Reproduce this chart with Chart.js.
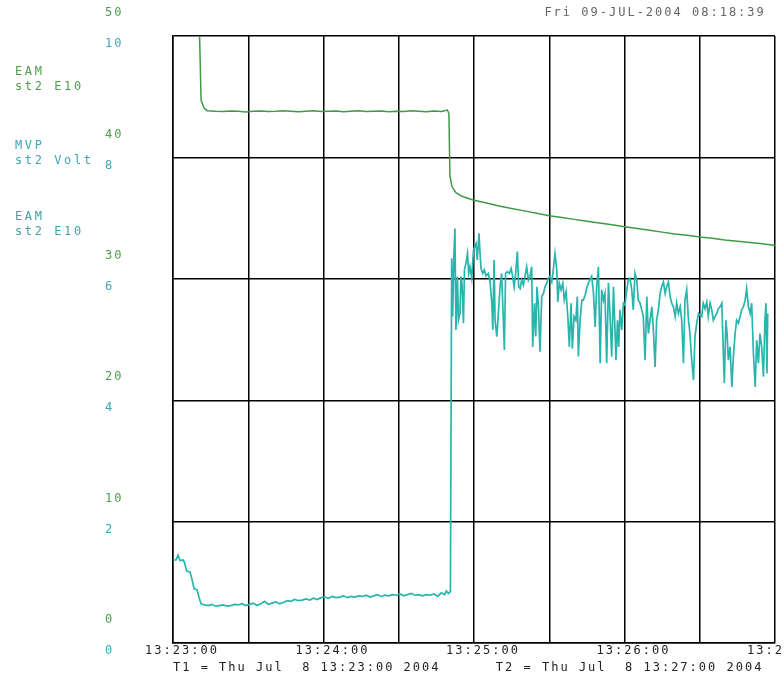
<html>

<head>
<script src="https://cdn.jsdelivr.net/npm/chart.js@4"></script>
<style>
  body { margin: 0; background: #fff; overflow: hidden; }
  #marco { position: relative; width: 784px; height: 683px; }
  .rotulo { position: absolute; left: 15px; font: 12px "DejaVu Sans Mono", monospace; letter-spacing: 2.6px; line-height: 15px; white-space: pre; }
</style>
</head>

<body>
  <div id="marco">
    <canvas id="grafica" width="784" height="683"></canvas>
    <!-- nombres de las series, a la izquierda -->
    <div class="rotulo" style="top:64px; color:#4d9e4d">EAM
st2 E10</div>
    <div class="rotulo" style="top:138px; color:#3fa6b4">MVP
st2 Volt</div>
    <div class="rotulo" style="top:209px; color:#3ea3a3">EAM
st2 E10</div>
  </div>

<script>
  // segundos desde 13:23:00
  const tiempoVerde = [10.6, 11.2, 12.4, 13.6,
    17, 20, 23, 26, 29, 32, 35, 38, 41, 44,
    47, 50, 53, 56, 59, 62, 65, 68, 71, 74,
    77, 80, 83, 86, 89, 92, 95, 98, 101, 104, 107,
    109.4, 110.0, 110.4, 111.2, 112.8, 115.2, 119.6,
    125, 130, 135, 140, 145, 150, 155, 160, 165, 170,
    175, 180, 185, 190, 195, 200, 205, 210, 215, 220,
    225, 230, 235, 240];
  const valorVerde = [50, 44.7, 44.07, 43.85,
    43.8, 43.78, 43.82, 43.8, 43.75, 43.8, 43.82, 43.78, 43.8, 43.85,
    43.8, 43.76, 43.8, 43.84, 43.78, 43.8, 43.82, 43.76, 43.8, 43.85,
    43.78, 43.8, 43.83, 43.76, 43.8, 43.78, 43.84, 43.8, 43.76, 43.82, 43.78,
    43.9, 43.6, 38.5, 37.6, 37.1, 36.8, 36.5,
    36.25, 36.0, 35.8, 35.6, 35.4, 35.2, 35.05, 34.9, 34.75, 34.6,
    34.45, 34.3, 34.15, 34.0, 33.85, 33.7, 33.6, 33.45, 33.35, 33.2,
    33.1, 33.0, 32.9, 32.75];

  const tiempoCian = [
    0, 1.2, 2, 2.8, 4, 4.6, 5.4, 6.8, 7.6, 8.4,
    9.6, 10.4, 11.2, 12.5, 14, 15.5, 17, 18.5, 20, 21.5,
    23, 24.5, 26, 27.5, 29, 30.5, 32, 33.5, 35, 36.5,
    38, 39.5, 41, 42.5, 44, 45.5, 47, 48.5, 50, 51.5,
    53, 54.5, 56, 57.5, 59, 60.5, 62, 63.5, 65, 66.5,
    68, 69.5, 71, 72.5, 74, 75.5, 77, 78.5, 80, 81.5,
    83, 84.5, 86, 87.5, 89, 90.5, 92, 93.5, 95, 96.5,
    98, 99.5, 101, 102.5, 104, 105.5, 107, 108.3, 109, 109.8,
    110.6, 111.1, 111.5, 112.0, 112.4, 112.8, 113.4, 113.8, 114.4, 114.8,
    115.2, 115.8, 116.2, 116.8, 117.4, 117.9, 118.4, 119.1, 119.8, 120.8,
    121.3, 122.0, 122.4, 122.8, 123.5, 124.1, 124.8, 125.7, 126.4, 127.1,
    127.5, 128.0, 128.4, 129.1, 129.7, 130.4, 131.0, 131.7, 132.1, 132.6,
    133.3, 134.1, 134.8, 135.4, 136.0, 136.6, 137.3, 137.8, 138.4, 139.0,
    139.7, 140.4, 141.0, 141.7, 142.3, 143.0, 143.4, 144.1, 144.6, 145.1,
    145.7, 146.3, 147.0, 147.7, 148.3, 149.0, 149.6, 150.3, 151.0, 151.6,
    152.3, 153.0, 153.4, 154.0, 154.7, 155.4, 156.0, 156.7, 157.4, 158.0,
    158.7, 159.2, 159.9, 160.6, 161.2, 161.6, 162.3, 163.0, 163.6, 164.3,
    164.9, 165.6, 166.3, 166.9, 167.6, 168.3, 168.9, 169.6, 170.3, 170.9,
    171.6, 172.2, 172.9, 173.6, 174.2, 174.9, 175.6, 176.2, 176.6, 177.2,
    177.7, 178.2, 178.9, 179.6, 180.2, 180.9, 181.5, 182.2, 182.9, 183.5,
    184.2, 184.9, 185.5, 186.2, 186.9, 187.5, 188.2, 188.9, 189.5, 190.2,
    190.9, 191.5, 192.2, 192.8, 193.5, 194.2, 194.8, 195.5, 196.2, 196.8,
    197.5, 198.2, 198.8, 199.5, 200.2, 200.8, 201.5, 202.2, 202.8, 203.5,
    204.1, 204.8, 205.5, 206.1, 206.8, 207.5, 208.1, 208.8, 209.5, 210.8,
    211.4, 212.1, 212.8, 213.4, 214.1, 214.8, 215.4, 216.1, 216.8, 217.4,
    218.1, 218.8, 219.4, 219.8, 220.4, 220.9, 221.4, 222.1, 222.8, 223.4,
    224.1, 224.7, 225.4, 226.1, 226.7, 227.4, 228.1, 228.7, 229.4, 230.1,
    230.7, 231.4, 232.1, 232.7, 233.4, 234.0, 234.7, 235.4, 236.0, 236.4,
    236.8, 237.1];
  const valorCian = [
    1.37, 1.37, 1.45, 1.36, 1.37, 1.33, 1.19, 1.17, 1.05, 0.90,
    0.88, 0.75, 0.65, 0.63, 0.62, 0.64, 0.61, 0.62, 0.63, 0.61,
    0.62, 0.64, 0.63, 0.65, 0.62, 0.64, 0.66, 0.62, 0.65, 0.69,
    0.64, 0.66, 0.68, 0.65, 0.67, 0.70, 0.69, 0.72, 0.70, 0.71,
    0.73, 0.71, 0.74, 0.72, 0.75, 0.76, 0.74, 0.77, 0.75, 0.76,
    0.78, 0.75, 0.77, 0.76, 0.78, 0.77, 0.79, 0.76, 0.78, 0.80,
    0.77, 0.79, 0.78, 0.80, 0.79, 0.81, 0.78, 0.80, 0.82, 0.79,
    0.80, 0.78, 0.80, 0.79, 0.81, 0.77, 0.83, 0.80, 0.86, 0.82,
    0.85, 6.34, 5.38, 6.42, 6.83, 5.16, 6.04, 5.32, 5.43, 6.04,
    5.93, 5.27, 6.15, 6.26, 6.42, 6.09, 6.20, 6.01, 6.48, 6.58,
    6.31, 6.75, 6.42, 6.17, 6.09, 6.15, 6.05, 6.09, 5.95, 5.60,
    5.16, 6.31, 5.32, 5.05, 5.43, 5.87, 6.09, 5.32, 4.83, 6.09,
    6.12, 6.09, 6.17, 6.04, 5.87, 6.09, 6.45, 5.87, 5.84, 5.98,
    5.90, 6.06, 6.20, 5.98, 6.04, 6.20, 4.88, 5.60, 5.05, 5.87,
    5.54, 4.80, 5.71, 5.76, 5.87, 5.93, 6.01, 6.04, 5.95, 6.15,
    6.42, 6.15, 5.62, 5.93, 5.82, 5.93, 5.65, 5.79, 5.38, 4.88,
    5.60, 4.85, 5.38, 5.32, 5.71, 4.72, 5.32, 5.65, 5.65, 5.73,
    5.84, 5.93, 5.99, 6.04, 5.79, 5.21, 5.87, 6.20, 4.61, 5.82,
    5.65, 5.76, 4.61, 5.93, 5.43, 4.72, 5.87, 5.16, 4.66, 5.32,
    4.88, 5.49, 5.16, 5.60, 5.57, 5.82, 5.98, 6.01, 5.82, 5.49,
    6.09, 5.98, 5.65, 5.60, 5.49, 5.38, 4.66, 5.71, 5.10, 5.32,
    5.54, 5.16, 4.55, 5.32, 5.49, 5.76, 5.87, 5.95, 5.76, 5.87,
    5.95, 5.71, 5.60, 5.54, 5.38, 5.60, 5.43, 5.54, 5.32, 4.61,
    5.65, 5.82, 5.32, 5.10, 4.66, 4.33, 5.05, 5.27, 5.43, 5.38,
    5.60, 5.51, 5.62, 5.38, 5.60, 5.49, 5.32, 5.38, 5.43, 5.51,
    5.54, 5.60, 4.77, 4.28, 5.32, 5.10, 4.66, 4.88, 4.22, 4.72,
    5.10, 5.32, 5.27, 5.38, 5.49, 5.54, 5.65, 5.84, 5.54, 5.43,
    5.60, 4.77, 4.22, 4.99, 4.61, 5.10, 4.88, 4.39, 5.32, 5.60,
    4.44, 5.43];

  const etiquetasHora = ['13:23:00', '13:24:00', '13:25:00', '13:26:00', '13:27:00'];
  const tituloFecha = 'Fri 09-JUL-2004 08:18:39 ';
  const pieTiempos = 'T1 = Thu Jul  8 13:23:00 2004      T2 = Thu Jul  8 13:27:00 2004';

  const verde = '#3d9a45';
  const verdeTexto = '#4d9e4d';
  const cian = '#27b5ac';
  const cianTexto = '#3fa6b4';
  const fuente = { family: '"DejaVu Sans Mono", monospace', size: 12, weight: 'normal' };

  const puntosVerde = tiempoVerde.map((t, i) => ({ x: t, y: valorVerde[i] }));
  const puntosCian = tiempoCian.map((t, i) => ({ x: t, y: valorCian[i] }));

  // letras anchas como en la terminal original
  const espaciado = {
    id: 'espaciado',
    beforeUpdate(chart) { chart.ctx.letterSpacing = '2px'; },
    beforeLayout(chart) { chart.ctx.letterSpacing = '2px'; },
    beforeDraw(chart) { chart.ctx.letterSpacing = '2px'; }
  };

  const config = {
    type: 'line',
    data: {
      datasets: [{
        label: 'MVP st2 Volt',
        data: puntosCian,
        borderColor: cian,
        borderWidth: 1.7,
        pointRadius: 0,
        yAxisID: 'yc'
      },
      {
        label: 'EAM st2 E10',
        data: puntosVerde,
        borderColor: verde,
        borderWidth: 1.5,
        pointRadius: 0,
        yAxisID: 'yv'
      }]
    },
    options: {
      responsive: false,
      animation: false,
      events: [],
      layout: { padding: { left: 105, right: 0, top: 0, bottom: 0 } },
      plugins: {
        legend: { display: false },
        tooltip: { enabled: false },
        title: {
          display: true,
          text: tituloFecha,
          align: 'end',
          fullSize: false,
          color: '#666',
          font: fuente,
          padding: { top: 6, bottom: 15.6 }
        }
      },
      scales: {
        x: {
          type: 'linear',
          min: 0,
          max: 240,
          grid: { color: '#000', lineWidth: 1.5, drawTicks: false },
          border: { color: '#000', width: 1.5 },
          ticks: {
            stepSize: 30,
            autoSkip: false,
            maxRotation: 0,
            padding: 0,
            labelOffset: 9,
            color: '#222',
            font: fuente,
            callback: (v) => (v % 60 === 0 ? etiquetasHora[v / 60] : '')
          },
          title: {
            display: true,
            text: pieTiempos,
            align: 'start',
            color: '#222',
            font: fuente,
            padding: { top: 3, bottom: 8 }
          },
          afterFit: (s) => { s.paddingRight = 9; }
        },
        yv: {
          position: 'left',
          weight: 10,
          min: 0,
          max: 50,
          grid: { display: false },
          border: { display: false },
          ticks: { stepSize: 10, mirror: true, crossAlign: 'near', padding: 0, labelOffset: -23, color: verdeTexto, font: fuente },
          afterFit: (s) => { s.width = 0; }
        },
        yc: {
          position: 'left',
          weight: 0,
          min: 0,
          max: 10,
          grid: { color: '#000', lineWidth: 1.5, drawTicks: false },
          border: { color: '#000', width: 1.5 },
          ticks: { stepSize: 2, crossAlign: 'far', labelOffset: 8, color: cianTexto, font: fuente },
          afterFit: (s) => { s.width = 68; }
        }
      }
    },
    plugins: [espaciado]
  };

  const miGrafica = new Chart(document.getElementById('grafica'), config);
</script>
</body>

</html>
